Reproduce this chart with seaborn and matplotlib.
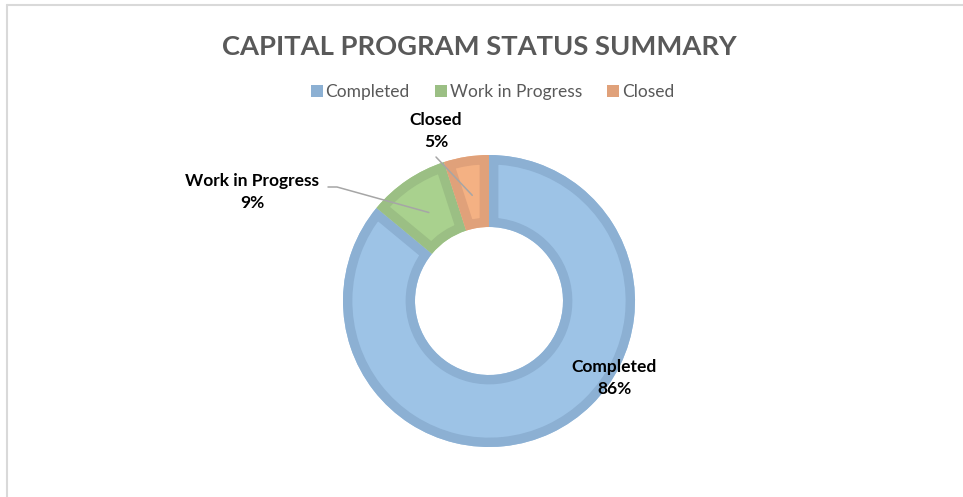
import matplotlib
matplotlib.use('Agg')
import matplotlib.pyplot as plt
import seaborn as sns
import numpy as np
from matplotlib.patches import Patch, Wedge
from matplotlib.lines import Line2D

# ---- data ----
categories = ['Completed', 'Work in Progress', 'Closed']
percent = [86, 9, 5]
title = 'CAPITAL PROGRAM STATUS SUMMARY'

# ---- style ----
fill_colors = ['#9DC3E6', '#A9D18E', '#F4B183']
edge_colors = ['#8CB0D3', '#9BBF84', '#E0A17A']

sns.set_theme(style='white')
plt.rcParams['font.family'] = ['Lato', 'DejaVu Sans']

W, H = 963, 497
fig = plt.figure(figsize=(W / 100, H / 100), dpi=100)
fig.patch.set_facecolor('white')
ax = fig.add_axes([0, 0, 1, 1])

cx, cy = 489, H - 301
R_out = 146
R_in = 74

wedges, _ = ax.pie(percent, colors=fill_colors, startangle=90, counterclock=False,
                   radius=R_out, center=(cx, cy), frame=True,
                   wedgeprops=dict(width=R_out - R_in, linewidth=0))
ax.set_xlim(0, W)
ax.set_ylim(0, H)
ax.set_aspect('auto')
ax.axis('off')

# inside borders: stroke clipped to each wedge's own shape
for w, ec in zip(wedges, edge_colors):
    clip = Wedge(w.center, w.r, w.theta1, w.theta2, width=w.width,
                 transform=ax.transData)
    border = Wedge(w.center, w.r, w.theta1, w.theta2, width=w.width,
                   facecolor='none', edgecolor=ec, linewidth=13.5,
                   joinstyle='miter')
    ax.add_patch(border)
    border.set_clip_path(clip)

# data labels with leader lines
label_pos = {
    'Completed': (614, H - 378),
    'Work in Progress': (252, H - 192),
    'Closed': (436, H - 131),
}
leader_start = {
    'Work in Progress': [(328, H - 187), (337, H - 187)],
    'Closed': [(436, H - 157)],
}
r_mid = (R_out + R_in) / 2 - 3
for w, cat, p in zip(wedges, categories, percent):
    x, y = label_pos[cat]
    ax.text(x, y, f'{cat}\n{p}%', ha='center', va='center', fontsize=12.5,
            fontweight='bold', color='black', linespacing=1.5)
    if cat in leader_start:
        ang = np.deg2rad((w.theta1 + w.theta2) / 2)
        end = (cx + r_mid * np.cos(ang), cy + r_mid * np.sin(ang))
        pts = leader_start[cat] + [end]
        ax.plot([q[0] for q in pts], [q[1] for q in pts], color='#A6A6A6', lw=1.1)

fig.text(479 / W, 1 - 47 / H, title, ha='center', va='center', fontsize=19.7,
         fontweight='bold', color='#595959')

handles = [Patch(facecolor=c, edgecolor='none') for c in edge_colors]
fig.legend(handles, categories, loc='center', bbox_to_anchor=(492.5 / W, 1 - 92 / H),
           ncol=3, frameon=False, fontsize=12.5, handlelength=0.7, handleheight=0.7,
           handletextpad=0.15, columnspacing=1.45, labelcolor='#595959',
           borderpad=0, borderaxespad=0)

# chart-area border (only top and left visible)
fig.add_artist(Line2D([6.5 / W, 6.5 / W], [0, 1 - 4.5 / H], color='#D9D9D9', lw=1.5,
                      transform=fig.transFigure))
fig.add_artist(Line2D([6.5 / W, 1], [1 - 4.5 / H, 1 - 4.5 / H], color='#D9D9D9', lw=1.5,
                      transform=fig.transFigure))

fig.savefig('out.png', dpi=100)
